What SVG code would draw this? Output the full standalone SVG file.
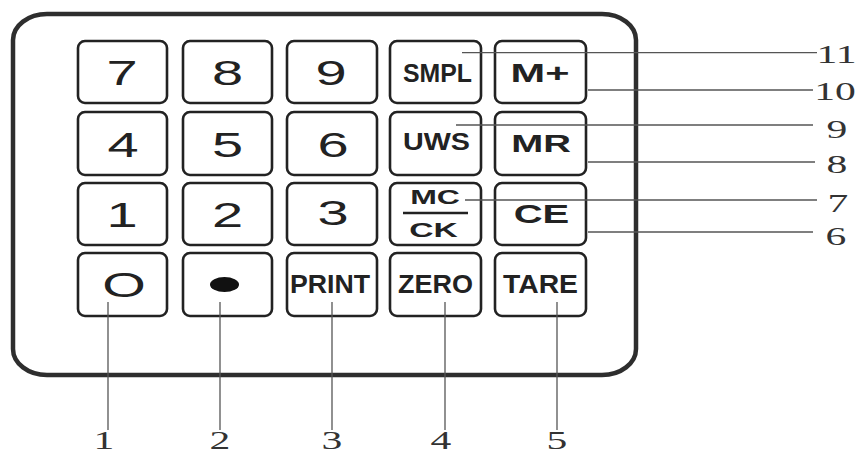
<svg xmlns="http://www.w3.org/2000/svg" width="861" height="455" viewBox="0 0 861 455">
<style>
.frame{fill:none;stroke:#2e2e2e;stroke-width:4.5}
.key{fill:#fff;stroke:#222;stroke-width:2.6}
.d{font-family:"Liberation Sans",Arial,sans-serif;font-size:35px;fill:#222;text-anchor:middle}
.b{font-family:"Liberation Sans",Arial,sans-serif;font-weight:bold;fill:#222;text-anchor:middle}
.n{font-family:"Liberation Serif","Times New Roman",serif;font-size:26px;fill:#333;text-anchor:middle}
.lead{stroke:#555;stroke-width:1.3;fill:none}
</style>
<rect class="frame" x="13" y="14" width="623" height="361" rx="34" ry="26"/>

<g id="key-7"><rect class="key" x="78" y="41" width="89" height="62" rx="7"/><text class="d" transform="translate(122 85) scale(1.6 1)">7</text></g>
<g id="key-8"><rect class="key" x="183" y="41" width="89" height="62" rx="7"/><text class="d" transform="translate(227.5 85) scale(1.6 1)">8</text></g>
<g id="key-9"><rect class="key" x="287" y="41" width="90" height="62" rx="7"/><text class="d" transform="translate(331 85) scale(1.6 1)">9</text></g>
<g id="key-smpl"><rect class="key" x="390" y="41" width="91" height="62" rx="7"/><text class="b" x="437.5" y="82" font-size="26" textLength="69" lengthAdjust="spacingAndGlyphs">SMPL</text></g>
<g id="key-mplus"><rect class="key" x="495" y="41" width="91" height="62" rx="7"/><text class="b" transform="translate(540 82) scale(1.6 1)" font-size="26">M+</text></g>

<g id="key-4"><rect class="key" x="78" y="112" width="89" height="63" rx="7"/><text class="d" transform="translate(123 157) scale(1.6 1)">4</text></g>
<g id="key-5"><rect class="key" x="183" y="112" width="89" height="63" rx="7"/><text class="d" transform="translate(227.5 157) scale(1.6 1)">5</text></g>
<g id="key-6"><rect class="key" x="287" y="112" width="90" height="63" rx="7"/><text class="d" transform="translate(333 157) scale(1.6 1)">6</text></g>
<g id="key-uws"><rect class="key" x="390" y="112" width="91" height="63" rx="7"/><text class="b" x="436.5" y="150" font-size="24" textLength="67" lengthAdjust="spacingAndGlyphs">UWS</text></g>
<g id="key-mr"><rect class="key" x="495" y="112" width="91" height="63" rx="7"/><text class="b" transform="translate(541 152) scale(1.6 1)" font-size="24">MR</text></g>

<g id="key-1"><rect class="key" x="78" y="183" width="89" height="62" rx="7"/><text class="d" transform="translate(122 227) scale(1.6 1)">1</text></g>
<g id="key-2"><rect class="key" x="183" y="183" width="89" height="62" rx="7"/><text class="d" transform="translate(227.5 227) scale(1.6 1)">2</text></g>
<g id="key-3"><rect class="key" x="287" y="183" width="90" height="62" rx="7"/><text class="d" transform="translate(333 225) scale(1.6 1)">3</text></g>
<g id="key-mcck"><rect class="key" x="390" y="183" width="91" height="62" rx="7"/><text class="b" transform="translate(435 204) scale(1.6 1)" font-size="20">MC</text><line x1="403" y1="213" x2="468" y2="213" stroke="#222" stroke-width="2.5"/><text class="b" transform="translate(433.5 237) scale(1.6 1)" font-size="21">CK</text></g>
<g id="key-ce"><rect class="key" x="495" y="183" width="91" height="62" rx="7"/><text class="b" transform="translate(541.5 223) scale(1.6 1)" font-size="25">CE</text></g>

<g id="key-0"><rect class="key" x="78" y="253" width="89" height="63" rx="7"/><text class="d" transform="translate(124 297) scale(1.6 1)" font-size="27.5">O</text></g>
<g id="key-dot"><rect class="key" x="183" y="253" width="89" height="63" rx="7"/><ellipse cx="224.5" cy="284.5" rx="14.5" ry="7.5" fill="#111"/></g>
<g id="key-print"><rect class="key" x="287" y="253" width="90" height="63" rx="7"/><text class="b" x="330" y="293" font-size="25" textLength="80" lengthAdjust="spacingAndGlyphs">PRINT</text></g>
<g id="key-zero"><rect class="key" x="390" y="253" width="91" height="63" rx="7"/><text class="b" x="435.5" y="293" font-size="25" textLength="75" lengthAdjust="spacingAndGlyphs">ZERO</text></g>
<g id="key-tare"><rect class="key" x="495" y="253" width="91" height="63" rx="7"/><text class="b" x="540.5" y="293" font-size="25" textLength="75" lengthAdjust="spacingAndGlyphs">TARE</text></g>

<g id="connectors">
<line class="lead" x1="108" y1="302" x2="108" y2="430"/>
<line class="lead" x1="220" y1="302" x2="220" y2="430"/>
<line class="lead" x1="332" y1="302" x2="332" y2="430"/>
<line class="lead" x1="445" y1="302" x2="445" y2="430"/>
<line class="lead" x1="557" y1="302" x2="557" y2="430"/>
<line class="lead" x1="462" y1="52.7" x2="817" y2="52.7"/>
<line class="lead" x1="588" y1="90" x2="813" y2="90"/>
<line class="lead" x1="456" y1="125" x2="813" y2="125"/>
<line class="lead" x1="588" y1="162" x2="815" y2="162"/>
<line class="lead" x1="465" y1="200" x2="817" y2="200"/>
<line class="lead" x1="588" y1="232" x2="813" y2="232"/>
</g>

<g id="labels">
<text class="n" transform="translate(104 449) scale(1.6 1)" font-size="24">1</text>
<text class="n" transform="translate(220 449) scale(1.6 1)" font-size="24">2</text>
<text class="n" transform="translate(332 449) scale(1.6 1)" font-size="24">3</text>
<text class="n" transform="translate(441 449) scale(1.6 1)" font-size="24">4</text>
<text class="n" transform="translate(557 449) scale(1.6 1)" font-size="24">5</text>
<text class="n" transform="translate(836.5 63) scale(1.6 1)">11</text>
<text class="n" transform="translate(835 100) scale(1.6 1)">10</text>
<text class="n" transform="translate(837 138) scale(1.6 1)">9</text>
<text class="n" transform="translate(837 173) scale(1.6 1)">8</text>
<text class="n" transform="translate(838 212) scale(1.6 1)">7</text>
<text class="n" transform="translate(836 245) scale(1.6 1)">6</text>
</g>
</svg>
